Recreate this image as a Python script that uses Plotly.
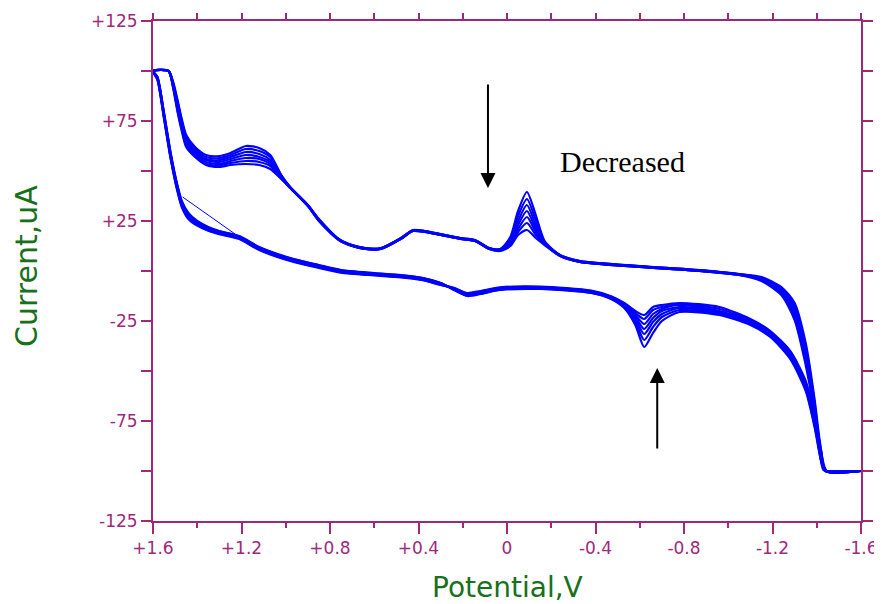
import plotly.graph_objects as go

# ---------------- data ----------------
# cathodic sweep (+1.6 V -> -1.6 V)
E_cath = [1.60, 1.58, 1.55, 1.52, 1.49, 1.47, 1.44, 1.40, 1.35, 1.30,
          1.21, 1.12, 0.98, 0.85, 0.75, 0.60, 0.48, 0.38, 0.30, 0.24,
          0.18, 0.12, 0.03, -0.15, -0.38, -0.47, -0.53, -0.58, -0.62, -0.66,
          -0.70, -0.78, -0.96, -1.10, -1.19, -1.28, -1.35, -1.39, -1.42, -1.44,
          -1.60]

I_cath_1 = [100, 97, 79, 59, 43, 35, 29, 25, 22, 20,
            17.5, 12, 6.5, 3, 0.5, -1, -2, -3.5, -6, -9.5,
            -12.5, -11.5, -9.5, -9, -11, -14, -18.5, -27, -38, -31,
            -25, -20.5, -22, -27, -33, -44, -60, -78, -95, -100, -100]
I_cath_2 = [100, 97, 78.5, 58.5, 42.5, 34.5, 28.5, 24.5, 21.5, 19.8,
            17.2, 11.8, 6.3, 2.8, 0.3, -1.2, -2.2, -3.6, -6, -9.3,
            -12.3, -11.3, -9.3, -8.8, -10.8, -13.7, -18, -25.5, -34.5, -28,
            -23, -19.5, -21.5, -26.5, -32.5, -43.5, -59, -77, -94, -100, -100]
I_cath_3 = [100, 96.5, 78, 58, 42, 34, 28, 24, 21.3, 19.5,
            17, 11.5, 6, 2.5, 0, -1.4, -2.4, -3.8, -6.2, -9.2,
            -12, -11, -9, -8.6, -10.6, -13.4, -17.5, -24, -31.5, -25.5,
            -21.5, -18.5, -21, -26, -32, -43, -58, -76, -93, -100, -100]
I_cath_4 = [100, 96.5, 77.5, 57.5, 41.5, 33.5, 27.5, 23.5, 21, 19.2,
            16.8, 11.2, 5.8, 2.3, -0.2, -1.6, -2.6, -4, -6.4, -9,
            -11.8, -10.8, -8.8, -8.4, -10.4, -13.2, -17.2, -23, -29, -23.5,
            -20, -18, -20.5, -25.5, -31.5, -42, -57.5, -75, -92.5, -100, -100]
I_cath_5 = [100, 96, 77, 57, 41, 33, 27, 23.2, 20.7, 19,
            16.5, 11, 5.5, 2, -0.4, -1.8, -2.8, -4.2, -6.6, -8.8,
            -11.5, -10.5, -8.6, -8.2, -10.2, -13, -16.8, -22, -26.5, -21.5,
            -19, -17, -20, -25, -31, -41.5, -57, -74, -92, -100, -100]
I_cath_6 = [100, 96, 76.5, 56.5, 40.5, 32.5, 26.5, 23, 20.4, 18.7,
            16.2, 10.8, 5.3, 1.8, -0.6, -2, -3, -4.4, -6.8, -8.6,
            -11.3, -10.3, -8.4, -8, -10, -12.8, -16.4, -21, -24, -19.5,
            -18, -16.5, -19, -24.5, -30.5, -41, -56, -73.5, -91, -100, -100]
I_cath_7 = [100, 95.5, 76, 56, 40, 32, 26, 22.7, 20.1, 18.4,
            16, 10.5, 5, 1.5, -0.8, -2.2, -3.2, -4.6, -7, -8.4,
            -11, -10, -8.2, -7.8, -9.8, -12.6, -16, -20, -22, -18,
            -17, -16, -18, -24, -30, -40, -55, -73, -90, -100, -100]

# anodic sweep (-1.6 V -> +1.6 V)
E_anod = [-1.60, -1.445, -1.43, -1.41, -1.39, -1.35, -1.30, -1.24, -1.15, -1.05,
          -0.87, -0.60, -0.33, -0.24, -0.17, -0.13, -0.09, -0.05, -0.015, 0.03,
          0.08, 0.145, 0.21, 0.30, 0.37, 0.425, 0.48, 0.57, 0.64, 0.70,
          0.76, 0.85, 0.90, 0.98, 1.02, 1.07, 1.12, 1.18, 1.25, 1.30,
          1.36, 1.41, 1.45, 1.47, 1.49, 1.51, 1.53, 1.60]

I_anod_1 = [-100, -100, -96, -82, -64, -36, -16, -8, -3, -1.5,
            0.5, 2.5, 5, 8, 15, 28, 39.5, 30, 17, 11,
            11.5, 15.5, 16.5, 18.5, 20, 20.5, 16.5, 11.5, 11.5, 13,
            16, 26, 33, 42, 48, 58, 61.5, 62.5, 59, 57.5,
            58, 62, 68, 76, 86, 95, 100, 100]
I_anod_2 = [-100, -100, -97, -84, -66, -38, -17.5, -9, -3.5, -1.6,
            0.4, 2.4, 4.9, 7.9, 14.5, 25.5, 36, 27.5, 16, 11,
            11.4, 15.4, 16.4, 18.4, 19.9, 20.4, 16.4, 11.4, 11.4, 12.9,
            15.9, 25.8, 32.9, 41.9, 47.7, 57, 60, 61, 58, 56.5,
            57, 61, 67, 75, 85, 94.5, 100, 100]
I_anod_3 = [-100, -100, -97.5, -85, -67, -40, -19, -9.5, -3.5, -1.7,
            0.3, 2.3, 4.8, 7.8, 14, 23, 33, 25, 15, 10.8,
            11.3, 15.3, 16.3, 18.3, 19.8, 20.3, 16.3, 11.3, 11.3, 12.8,
            15.8, 25.6, 32.8, 41.8, 47.3, 55.5, 58.5, 59.5, 57, 55.5,
            56, 60, 66, 74, 84, 94, 100, 100]
I_anod_4 = [-100, -100, -98, -86, -68, -41, -20, -10, -4, -1.8,
            0.2, 2.2, 4.7, 7.7, 14, 21, 30, 23, 14, 10.6,
            11.2, 15.2, 16.2, 18.2, 19.7, 20.2, 16.2, 11.2, 11.2, 12.7,
            15.7, 25.4, 32.7, 41.7, 47, 54.5, 57, 58, 56, 54.5,
            55.5, 59.5, 65, 73, 83, 93.5, 100, 100]
I_anod_5 = [-100, -100, -98.5, -87, -69, -43, -21.5, -10.5, -4, -1.9,
            0.1, 2.1, 4.6, 7.6, 13.5, 19.5, 27, 21, 13.5, 10.4,
            11.1, 15.1, 16.1, 18.1, 19.6, 20.1, 16.1, 11.1, 11.1, 12.6,
            15.6, 25.3, 32.6, 41.6, 46.7, 53.5, 56, 56.5, 55, 53.5,
            54.5, 58.5, 64, 72, 82, 93, 100, 100]
I_anod_6 = [-100, -100, -99, -88, -70, -45, -23, -11, -4.5, -2,
            0, 2, 4.5, 7.5, 13.5, 18, 24, 19.5, 13, 10.2,
            11, 15, 16, 18, 19.5, 20, 16, 11, 11, 12.5,
            15.5, 25.1, 32.5, 41.5, 46.3, 52.5, 54.5, 55, 54, 52.8,
            53.5, 57.5, 63, 71, 81, 92.5, 100, 100]
I_anod_7 = [-100, -100, -99.5, -89, -71, -47, -24.5, -12, -5, -2,
            0, 2, 4.5, 7.5, 13, 16.5, 20.5, 18, 12.5, 10,
            11, 15, 16, 18, 19.5, 20, 16, 11, 11, 12.5,
            15.5, 25, 32.5, 41.5, 46, 51, 53, 53.5, 53, 52,
            53, 57, 62, 70, 80, 92, 100, 100]

# initial straight segment of the first scan
E_start = [1.466, 1.21]
I_start = [37, 17]

x_tickvals = [1.6, 1.2, 0.8, 0.4, 0, -0.4, -0.8, -1.2, -1.6]
x_ticktext = ["+1.6", "+1.2", "+0.8", "+0.4", "0", "-0.4", "-0.8", "-1.2", "-1.6"]
x_minor = [1.4, 1.0, 0.6, 0.2, -0.2, -0.6, -1.0, -1.4]
x_top_ticks = [1.6, 1.4, 1.2, 1.0, 0.8, 0.6, 0.4, 0.2, 0, -0.2, -0.4, -0.6, -0.8,
               -1.0, -1.2, -1.4, -1.6]
y_tickvals = [-125, -75, -25, 25, 75, 125]
y_ticktext = ["-125", "-75", "-25", "+25", "+75", "+125"]
y_minor = [-100, -50, 0, 50, 100]

cathodic = [I_cath_1, I_cath_2, I_cath_3, I_cath_4, I_cath_5, I_cath_6, I_cath_7]
anodic = [I_anod_1, I_anod_2, I_anod_3, I_anod_4, I_anod_5, I_anod_6, I_anod_7]

# ---------------- figure ----------------
AX = "#A0287A"
BLUE = "#0000FF"
GREEN = "#17701A"

fig = go.Figure()
for ic, ia in zip(cathodic, anodic):
    fig.add_trace(go.Scatter(x=E_cath + E_anod, y=ic + ia, mode="lines",
                             line=dict(color=BLUE, width=2.2, shape="spline", smoothing=0.7),
                             showlegend=False, hoverinfo="skip"))
fig.add_trace(go.Scatter(x=E_start, y=I_start, mode="lines",
                         line=dict(color=BLUE, width=1), showlegend=False, hoverinfo="skip"))
# empty trace that registers the top axis
fig.add_trace(go.Scatter(x=[None], y=[None], xaxis="x2", yaxis="y", mode="lines",
                         showlegend=False, hoverinfo="skip"))

# page body has an 8 px margin, so the figure is drawn 8 px smaller and offset
OFF = 8
W, H = 882 - OFF, 604 - OFF
L, T = 153 - OFF, 21 - OFF
PW, PH = 708, 500
R, B = W - L - PW, H - T - PH
fig.update_layout(
    width=W, height=H, margin=dict(l=L, r=R, t=T, b=B, autoexpand=False),
    paper_bgcolor="white", plot_bgcolor="white",
    font=dict(family="DejaVu Sans", color=AX),
    xaxis=dict(range=[1.6, -1.6], autorange=False, tickvals=x_tickvals, ticktext=x_ticktext,
               ticks="outside", ticklen=11, tickwidth=2, tickcolor=AX,
               tickfont=dict(family="DejaVu Sans", size=17, color=AX),
               showline=True, linecolor=AX, linewidth=2, mirror=False, automargin=False,
               minor=dict(tickvals=x_minor, ticks="outside", ticklen=5, tickwidth=2, tickcolor=AX),
               showgrid=False, zeroline=False),
    xaxis2=dict(overlaying="x", side="top", anchor="y", range=[1.6, -1.6], autorange=False,
                tickvals=x_top_ticks, ticks="outside", ticklen=6, tickwidth=2, tickcolor=AX,
                showticklabels=False, showline=True, linecolor=AX, linewidth=2,
                showgrid=False, zeroline=False, automargin=False),
    yaxis=dict(range=[-125, 125], autorange=False, tickvals=y_tickvals, ticktext=y_ticktext,
               ticks="outside", ticklen=10, tickwidth=2, tickcolor=AX,
               tickfont=dict(family="DejaVu Sans", size=17, color=AX),
               showline=True, linecolor=AX, linewidth=2, mirror="allticks", automargin=False,
               minor=dict(tickvals=y_minor, ticks="outside", ticklen=10, tickwidth=2, tickcolor=AX),
               showgrid=False, zeroline=False),
)

# helpers: screen pixel -> paper coordinate
def px(xp):
    return (xp - 153) / PW
def py(yp):
    return (521 - yp) / PH

fig.add_annotation(text="Current,uA", xref="paper", yref="paper", x=px(26), y=py(266),
                   xanchor="center", yanchor="middle", textangle=-90, showarrow=False,
                   font=dict(family="DejaVu Sans", size=30, color=GREEN))
fig.add_annotation(text="Potential,V", xref="paper", yref="paper", x=px(507), y=py(587),
                   xanchor="center", yanchor="middle", showarrow=False,
                   font=dict(family="DejaVu Sans", size=28, color=GREEN))
fig.add_annotation(text="Decreased", xref="x", yref="y", x=-0.52, y=55,
                   xanchor="center", yanchor="middle", showarrow=False,
                   font=dict(family="Liberation Serif, Times New Roman", size=30, color="black"))
fig.add_annotation(text="", xref="x", yref="y", x=0.086, y=41.5, axref="x", ayref="y",
                   ax=0.086, ay=94, showarrow=True, arrowhead=2, arrowsize=1.5, arrowwidth=2,
                   arrowcolor="black")
fig.add_annotation(text="", xref="x", yref="y", x=-0.679, y=-48.5, axref="x", ayref="y",
                   ax=-0.679, ay=-89.5, showarrow=True, arrowhead=2, arrowsize=1.5, arrowwidth=2,
                   arrowcolor="black")

fig.write_html("out.html")
